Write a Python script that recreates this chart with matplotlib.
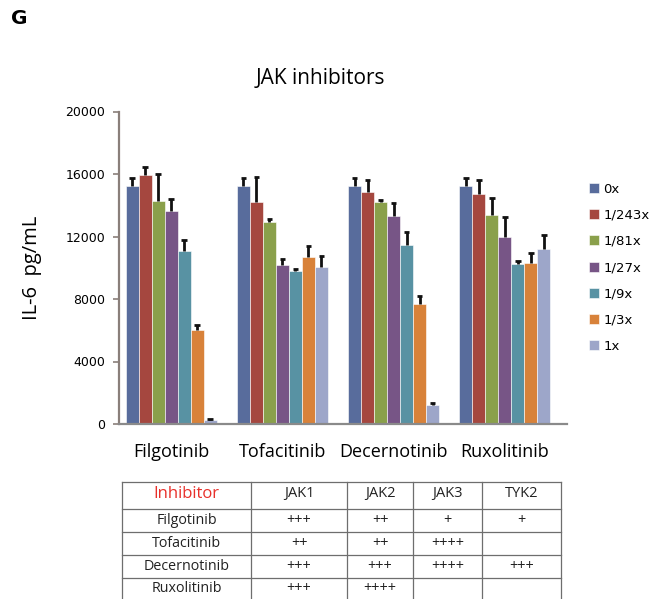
import matplotlib
matplotlib.use("Agg")
import matplotlib.pyplot as plt
import numpy as np

# ---- data ----
inhibitors = ["Filgotinib", "Tofacitinib", "Decernotinib", "Ruxolitinib"]
doses = ["0x", "1/243x", "1/81x", "1/27x", "1/9x", "1/3x", "1x"]
colors = ["#586c9c", "#a5473f", "#8aa04b", "#775586", "#5892a3", "#d8823a", "#9da6c9"]

# IL-6 (pg/mL), one list per dose, ordered by inhibitor
il6_0x     = [15250, 15250, 15250, 15250]
il6_1_243x = [15950, 14200, 14850, 14750]
il6_1_81x  = [14280, 12930, 14220, 13380]
il6_1_27x  = [13640, 10180, 13320, 11970]
il6_1_9x   = [11080, 9820, 11460, 10250]
il6_1_3x   = [6020, 10690, 7680, 10310]
il6_1x     = [260, 10050, 1220, 11210]

# upper error (SD)
err_0x     = [500, 500, 500, 500]
err_1_243x = [530, 1600, 760, 890]
err_1_81x  = [1720, 200, 120, 1070]
err_1_27x  = [790, 360, 810, 1290]
err_1_9x   = [700, 110, 810, 210]
err_1_3x   = [340, 710, 520, 620]
err_1x     = [40, 710, 100, 890]

means = [il6_0x, il6_1_243x, il6_1_81x, il6_1_27x, il6_1_9x, il6_1_3x, il6_1x]
errs = [err_0x, err_1_243x, err_1_81x, err_1_27x, err_1_9x, err_1_3x, err_1x]

yticks = [0, 4000, 8000, 12000, 16000, 20000]

# selectivity table
table_header = ["Inhibitor", "JAK1", "JAK2", "JAK3", "TYK2"]
table_rows = [
    ["Filgotinib", "+++", "++", "+", "+"],
    ["Tofacitinib", "++", "++", "++++", ""],
    ["Decernotinib", "+++", "+++", "++++", "+++"],
    ["Ruxolitinib", "+++", "++++", "", ""],
]

# ---- figure ----
W, H = 656, 599
fig = plt.figure(figsize=(W / 100, H / 100), dpi=100)

ax = fig.add_axes([119 / W, 1 - 424 / H, (567 - 119) / W, (424 - 111.5) / H])

x = np.arange(len(inhibitors))
bw = 0.117
cap = 0.025
for i, (m, e, c, lab) in enumerate(zip(means, errs, colors, doses)):
    pos = x + (i - 3) * bw
    m = np.asarray(m)
    top = m + np.asarray(e)
    ax.bar(pos, m, width=bw, color=c, edgecolor="white", linewidth=0.4, label=lab, zorder=2)
    # upper-only error bars
    ax.vlines(pos, m, top, color="#111111", lw=2, zorder=3)
    ax.hlines(top, pos - cap, pos + cap, color="#111111", lw=2, zorder=3)

ax.set_xlim(-0.47, 3.56)
ax.set_ylim(0, 20000)
ax.set_yticks(yticks)
ax.set_yticklabels([str(v) for v in yticks], fontsize=9, family="DejaVu Sans")
ax.set_xticks(x)
ax.set_xticklabels(inhibitors, fontsize=13, family="Open Sans")
ax.tick_params(axis="x", length=0, pad=14)
ax.tick_params(axis="y", length=4, width=1.2, color="#8a7f7a", pad=6)
for s in ["top", "right"]:
    ax.spines[s].set_visible(False)
ax.spines["left"].set_color("#8a7f7a")
ax.spines["left"].set_linewidth(1.6)
ax.spines["bottom"].set_color("#8a8a8a")
ax.spines["bottom"].set_linewidth(1.6)

ax.set_ylabel("IL-6  pg/mL", fontsize=14.5, family="Open Sans", labelpad=17)

fig.text(320 / W, 1 - 78 / H, "JAK inhibitors", ha="center", va="center",
         fontsize=15, family="Open Sans")
fig.text(11 / W, 1 - 18 / H, "G", ha="left", va="center", fontsize=14.5,
         fontweight="bold", family="DejaVu Sans")

leg = ax.legend(loc="upper left", bbox_to_anchor=(582 / W, 1 - 176 / H),
                bbox_transform=fig.transFigure, frameon=False,
                handlelength=0.8, handleheight=0.8, handletextpad=0.3,
                labelspacing=1.0, borderpad=0, prop={"family": "DejaVu Sans", "size": 9.5})

# ---- table ----
tax = fig.add_axes([0, 0, 1, 1])
tax.set_xlim(0, W)
tax.set_ylim(H, 0)
tax.axis("off")

col_edges = [122, 251, 347, 413, 482, 561]
row_edges = [482, 509, 532, 555, 577.5, 600]
lc = "#6e6e6e"
for xe in col_edges:
    tax.plot([xe, xe], [row_edges[0], row_edges[-1]], color=lc, lw=0.9)
for ye in row_edges[:-1]:
    tax.plot([col_edges[0], col_edges[-1]], [ye, ye], color=lc, lw=0.9)

all_rows = [table_header] + table_rows
for r, row in enumerate(all_rows):
    yc = (row_edges[r] + row_edges[r + 1]) / 2
    if r == 0:
        yc -= 2
    for cidx, txt in enumerate(row):
        xc = (col_edges[cidx] + col_edges[cidx + 1]) / 2
        color = "#e8302a" if (r == 0 and cidx == 0) else "#222222"
        size = 12 if (r == 0 and cidx == 0) else (10.5 if r == 0 else 10.3)
        tax.text(xc, yc, txt, ha="center", va="center", fontsize=size,
                 family="Open Sans", color=color)

fig.savefig("out.png", dpi=100)
